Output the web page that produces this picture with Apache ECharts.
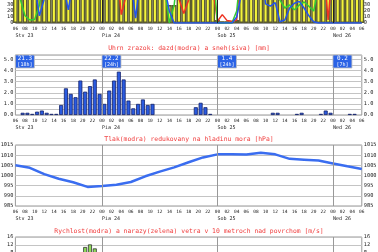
<!DOCTYPE html>
<html><head><meta charset="utf-8">
<script src="https://cdn.jsdelivr.net/npm/echarts@6/dist/echarts.min.js"></script>
<style>html,body{margin:0;padding:0;background:#fff}#c{width:378px;height:252px}</style>
</head><body><div id="c"></div>
<script>
// time axis: hours since 00:00 Stv 23; chart spans 06 Stv 23 .. 06 Ned 26
const START = 6;
const END = 78;
const dayStarts = [6, 24, 48, 72];
const dayNames = ['Stv 23', 'Pia 24', 'Sob 25', 'Ned 26'];
const dayTotals = ['21.3', '22.2', '1.4', '0.2'];
const dayHours = ['[18h]', '[24h]', '[24h]', '[7h]'];

const titles = [
  'Uhrn zrazok: dazd(modra) a sneh(siva) [mm]',
  'Tlak(modra) redukovany na hladinu mora [hPa]',
  'Rychlost(modra) a narazy(zelena) vetra v 10 metroch nad povrchom [m/s]'
];

// cloudiness [%], hourly from 06 Stv 23 (73 values); only 0..38 % is inside the picture
const cloudTotal = [
  100,100,100,100,100,100,100,100,100,100,100,100,
  100,100,100,100,100,100,100,100,100,100,100,100,
  100,100,100,100,100,100,100,100,30,30,100,100,
  100,100,100,100,100,100,5,3,3,3,5,100,
  100,100,100,100,100,100,100,100,100,100,100,100,
  100,100,100,100,100,100,100,100,100,100,100,100,
  100];
const cloudLow = [ // red
  100,100,100,100,100,100,100,100,100,100,100,100,
  100,100,100,100,100,100,100,100,100,100,14,45,
  100,100,100,100,100,100,100,100,100,100,40,16,
  38,100,100,100,100,60,3,14,4,3,5,100,
  100,100,100,100,100,100,100,100,100,100,100,100,
  100,100,100,100,100,5,100,100,100,100,100,100,
  100];
const cloudMid = [ // green
  100,40,12,5,6,30,100,100,100,100,100,100,
  100,100,100,100,100,100,100,100,100,100,100,100,
  100,100,100,100,100,100,100,60,0,30,100,100,
  100,100,100,100,100,100,0,0,0,0,20,100,
  100,100,100,100,100,100,100,38,25,30,22,30,
  35,28,20,60,100,100,100,100,100,100,100,100,
  100];
const cloudHigh = [ // blue
  100,100,100,100,60,12,40,100,100,100,60,22,
  70,100,100,100,100,100,100,100,100,100,100,100,
  70,8,80,100,100,100,100,60,20,0,0,0,
  0,0,0,0,0,0,0,0,0,0,10,50,
  100,100,100,100,32,28,34,2,5,25,33,36,
  25,12,2,0,0,0,0,0,0,0,0,0,
  0];

// hourly precipitation [mm], interval starting at each hour from 06 Stv 23 (72 values)
const precipRain = [
  0,0.2,0.2,0.1,0.3,0.4,0.2,0.1,0.1,0.9,2.4,1.9,
  1.6,3.1,2.1,2.6,3.2,1.9,1.0,2.2,3.1,3.9,3.2,1.3,
  0.6,1.0,1.4,0.9,1.0,0,0,0,0,0,0,0,
  0,0.7,1.1,0.7,0.1,0,0,0,0,0,0,0,
  0,0,0,0,0,0.2,0.2,0,0,0,0.1,0.2,
  0,0,0,0.1,0.4,0.2,0,0,0,0.1,0.1,0];
const PRECIP_MAX = 5.4;

// sea-level pressure [hPa], 3-hourly
const pressureHours = [6,9,12,15,18,21,24,27,30,33,36,39,42,45,48,51,54,57,60,63,66,69,72,75,78];
const pressure = [1005.0,1003.8,1000.7,998.4,996.7,994.4,994.8,995.5,996.8,999.6,1001.9,1004.0,
  1006.5,1008.9,1010.4,1010.5,1010.3,1011.2,1010.4,1008.2,1007.8,1007.4,1005.9,1004.5,1003.2];

// wind gusts [m/s], hourly intervals (only the visible top part is readable)
const gustWind = [
  null,null,null,null,null,null,null,null,null,null,null,null,
  null,null,11.0,12.3,10.3,null,null,null,null,null,null,null];

const FONT = 'DejaVu Sans Mono';
const LABEL = '#222';
const GL = 15.4, GR = 16.2;
const gridDefs = [
  {top: -37, height: 60, border: '#333'},
  {top: 55, height: 60, border: '#999'},
  {top: 145, height: 61, border: '#999'},
  {top: 237, height: 32, border: '#999'}
];
const isInt = v => Math.abs(v - Math.round(v)) < 1e-6;
const yDefs = [
  {min: 0, max: 100, interval: 10, split: false, fmt: v => String(v)},
  {min: 0, max: PRECIP_MAX, interval: 0.5, split: true, fmt: v => isInt(v) ? v.toFixed(1) : ''},
  {min: 985, max: 1015, interval: 5, split: true, fmt: v => String(v)},
  {min: 0, max: 16, interval: 4, split: true, fmt: v => String(v)}
];
const pad2 = v => String(v % 24).padStart(2, '0');

const grid = [], xAxis = [], yAxis = [];
gridDefs.forEach((g, i) => {
  grid.push({left: GL, right: GR, top: g.top, height: g.height, show: true,
    outerBoundsMode: 'none', containLabel: false,
    borderColor: g.border, borderWidth: 1, backgroundColor: 'transparent'});
  xAxis.push({gridIndex: i, type: 'value', min: START, max: END, interval: 2, position: 'bottom',
    axisLine: {show: false}, axisTick: {show: false}, splitLine: {show: false},
    axisLabel: {show: i < 3, fontSize: 4.5, fontFamily: FONT, color: LABEL, margin: 3, formatter: pad2}});
  xAxis.push({gridIndex: i, type: 'value', min: START, max: END, interval: 6, position: 'bottom',
    axisLine: {show: false}, axisTick: {show: false}, splitLine: {show: false},
    axisLabel: {show: i < 3, fontSize: 5, fontFamily: FONT, color: LABEL, margin: 10, align: 'left',
      formatter: v => { const k = dayStarts.indexOf(v); return k >= 0 ? dayNames[k] : ''; }}});
  const yd = yDefs[i];
  ['left', 'right'].forEach(pos => {
    yAxis.push({gridIndex: i, type: 'value', position: pos, min: yd.min, max: yd.max, interval: yd.interval,
      axisLine: {show: false}, axisTick: {show: false},
      splitLine: {show: yd.split && pos === 'left', lineStyle: {color: '#c4c4c4', width: 1}},
      axisLabel: {fontSize: 5.3, fontFamily: FONT, color: LABEL, margin: 2, formatter: yd.fmt}});
  });
});

const dayLines = color => ({
  symbol: ['none', 'none'], silent: true, label: {show: false},
  lineStyle: {color: color, type: 'solid', width: 1},
  data: dayStarts.slice(1).map(d => ({xAxis: d}))
});

const hourly = (arr, shift) => arr.map((v, r) => [START + r + shift, v]);

const series = [
  {type: 'bar', xAxisIndex: 0, yAxisIndex: 0, barWidth: 4.81,
    data: hourly(cloudTotal, 0),
    itemStyle: {color: '#f4f43a', borderColor: '#5a5a30', borderWidth: 1.4},
    markLine: dayLines('#222')},
  {type: 'line', xAxisIndex: 0, yAxisIndex: 0, symbol: 'none', data: hourly(cloudLow, 0),
    lineStyle: {color: '#ee3322', width: 1.5}},
  {type: 'line', xAxisIndex: 0, yAxisIndex: 0, symbol: 'none', data: hourly(cloudMid, 0),
    lineStyle: {color: '#33cc33', width: 1.5}},
  {type: 'line', xAxisIndex: 0, yAxisIndex: 0, symbol: 'none', data: hourly(cloudHigh, 0),
    lineStyle: {color: '#2255ee', width: 1.5}},
  {type: 'bar', xAxisIndex: 2, yAxisIndex: 2, barWidth: 4,
    data: hourly(precipRain, 0.5).filter(p => p[1] > 0),
    itemStyle: {color: '#2a5be0', borderColor: '#14226a', borderWidth: 0.8},
    markLine: dayLines('#999'),
    markPoint: {
      symbol: 'rect', symbolSize: [19, 13], symbolOffset: ['50%', '50%'], silent: true,
      itemStyle: {color: '#2b63e6', borderColor: '#c0c0c0', borderWidth: 0.8},
      label: {show: true, position: 'inside', color: '#fff',
        formatter: p => '{a|' + p.value + '}\n{b|' + p.name + '}',
        rich: {a: {fontSize: 6, fontFamily: FONT, color: '#fff', lineHeight: 6.5},
               b: {fontSize: 5, fontFamily: FONT, color: '#fff', lineHeight: 5.5}}},
      data: dayStarts.map((d, i) => ({coord: [d, PRECIP_MAX], value: dayTotals[i], name: dayHours[i]}))
    }},
  {type: 'line', xAxisIndex: 4, yAxisIndex: 4, symbol: 'none',
    data: pressureHours.map((h, k) => [h, pressure[k]]),
    lineStyle: {color: '#3a6df0', width: 2.5},
    markLine: dayLines('#999')},
  {type: 'bar', xAxisIndex: 6, yAxisIndex: 6, barWidth: 4,
    data: hourly(gustWind, 0.5).filter(p => p[1] != null),
    itemStyle: {color: '#8fdc5a', borderColor: '#333', borderWidth: 0.8},
    markLine: dayLines('#999')}
];

const chart = echarts.init(document.getElementById('c'), null, {renderer: 'canvas', width: 378, height: 252});
chart.setOption({
  animation: false,
  backgroundColor: '#fff',
  title: titles.map((t, i) => ({text: t, left: 'center', top: [45.5, 136.5, 228.5][i], padding: 0,
    textStyle: {fontSize: 6.4, color: '#f03c3c', fontFamily: FONT, fontWeight: 'normal'}})),
  grid, xAxis, yAxis, series
});
</script>
</body></html>
